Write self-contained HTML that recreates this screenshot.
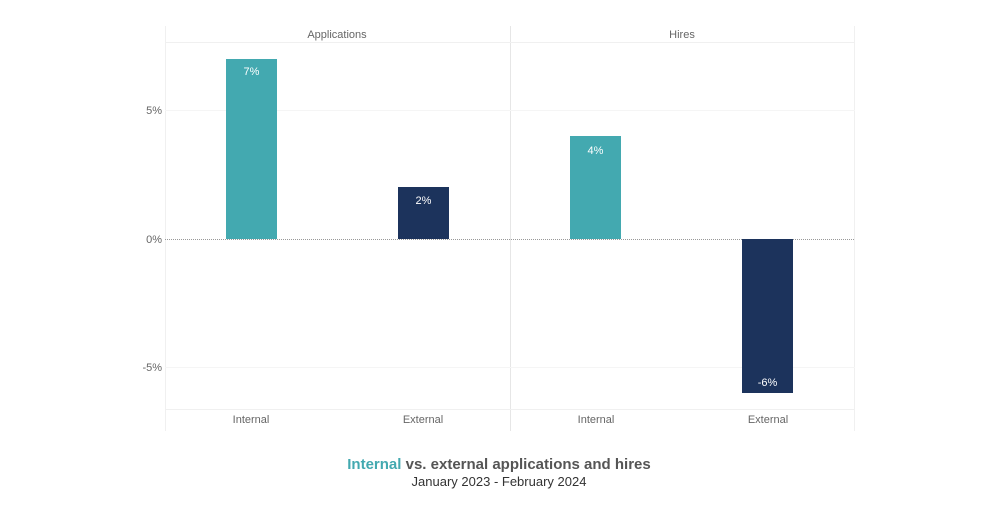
<!DOCTYPE html>
<html><head><meta charset="utf-8"><style>
body{margin:0;background:#fff;}
svg text{font-family:"Liberation Sans",sans-serif;}
</style></head><body>
<svg width="1000" height="500" viewBox="0 0 1000 500" xmlns="http://www.w3.org/2000/svg">
<g stroke="#f0f0f0" stroke-width="1">
<line x1="165.5" y1="26" x2="165.5" y2="431"/>
<line x1="510.5" y1="26" x2="510.5" y2="431" stroke="#e6e6e6"/>
<line x1="854.5" y1="26" x2="854.5" y2="431"/>
<line x1="165" y1="42.5" x2="855" y2="42.5"/>
<line x1="165" y1="110.5" x2="855" y2="110.5" stroke="#f5f5f5"/>
<line x1="165" y1="367.5" x2="855" y2="367.5" stroke="#f5f5f5"/>
<line x1="165" y1="409.5" x2="855" y2="409.5"/>
</g>
<line x1="165" y1="239.5" x2="855" y2="239.5" stroke="#999" stroke-width="1" stroke-dasharray="1,1"/>
<g font-size="11" fill="#666" text-anchor="middle">
<text x="337" y="38">Applications</text>
<text x="682" y="38">Hires</text>
<text x="251" y="423">Internal</text>
<text x="423" y="423">External</text>
<text x="596" y="423">Internal</text>
<text x="768" y="423">External</text>
</g>
<g font-size="11" fill="#666" text-anchor="end">
<text x="162" y="114">5%</text>
<text x="162" y="243">0%</text>
<text x="162" y="371">-5%</text>
</g>
<rect x="226" y="59" width="51" height="180" fill="#43a9b0"/>
<rect x="398" y="187" width="51" height="52" fill="#1c335c"/>
<rect x="570" y="136" width="51" height="103" fill="#43a9b0"/>
<rect x="742" y="239" width="51" height="154" fill="#1c335c"/>
<g font-size="11" fill="#fff" text-anchor="middle">
<text x="251.5" y="75">7%</text>
<text x="423.5" y="204">2%</text>
<text x="595.5" y="154">4%</text>
<text x="767.5" y="386">-6%</text>
</g>
<text x="499" y="469" font-size="15" font-weight="bold" fill="#555" text-anchor="middle"><tspan fill="#43a9b0">Internal</tspan> vs. external applications and hires</text>
<text x="499" y="486" font-size="13" fill="#333" text-anchor="middle">January 2023 - February 2024</text>
</svg>
</body></html>
